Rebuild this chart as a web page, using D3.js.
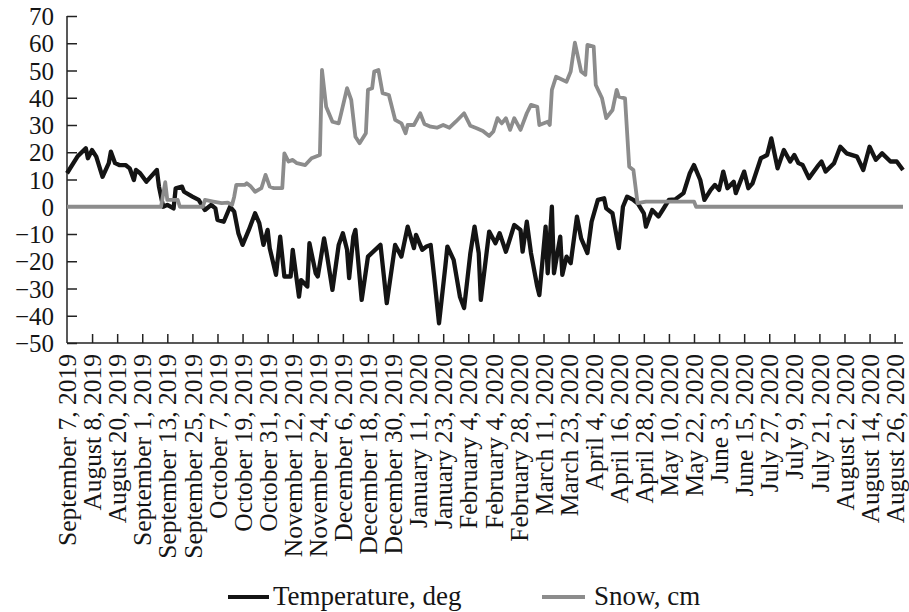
<!DOCTYPE html>
<html>
<head>
<meta charset="utf-8">
<script src="https://cdn.jsdelivr.net/npm/d3@7"></script>
<style>
  body { margin: 0; background: #fff; }
  svg text { font-family: "Liberation Serif", "DejaVu Serif", serif; fill: #151515; }
</style>
</head>
<body>
<div id="chart"></div>
<script>
// tick labels, one every 12 days (kept as printed in the source)
var xLabels = [
  "September 7, 2019", "August 8, 2019", "August 20, 2019", "September 1, 2019",
  "September 13, 2019", "September 25, 2019", "October 7, 2019", "October 19, 2019",
  "October 31, 2019", "November 12, 2019", "November 24, 2019", "December 6, 2019",
  "December 18, 2019", "December 30, 2019", "January 11, 2020", "January 23, 2020",
  "February 4, 2020", "February 4, 2020", "February 28, 2020", "March 11, 2020",
  "March 23, 2020", "April 4, 2020", "April 16, 2020", "April 28, 2020",
  "May 10, 2020", "May 22, 2020", "June 3, 2020", "June 15, 2020",
  "July 27, 2020", "July 9, 2020", "July 21, 2020", "August 2, 2020",
  "August 14, 2020", "August 26, 2020"
];
var yTicks = [-50, -40, -30, -20, -10, 0, 10, 20, 30, 40, 50, 60, 70];

// temperature, deg (day index from start, value)
var tempDay = [0, 5, 9, 10, 12, 14, 17, 20, 21, 23, 25, 28, 30, 32, 33, 35, 38, 43, 44, 46,
  48, 51, 52, 55, 56, 60, 63, 66, 69, 71, 72, 75, 78, 80, 82, 84, 87, 90, 92, 94,
  96, 97, 100, 102, 104, 107, 108, 111, 112, 115, 116, 119, 120, 123, 124, 127, 130, 132, 134, 135,
  137, 138, 141, 144, 150, 153, 157, 160, 163, 166, 167, 170, 172, 174, 176, 178, 181, 182, 185, 188,
  190, 193, 195, 197, 198, 202, 205, 207, 210, 214, 217, 218, 220, 222, 225, 226, 229, 230, 232, 233,
  236, 237, 239, 241, 244, 246, 249, 251, 254, 257, 258, 261, 264, 266, 268, 271, 273, 276, 277, 280,
  283, 285, 288, 291, 295, 298, 300, 303, 305, 308, 310, 312, 314, 316, 319, 320, 324, 326, 328, 332,
  335, 337, 340, 343, 346, 348, 350, 352, 355, 359, 361, 363, 367, 370, 373, 378, 381, 384, 387, 390,
  394, 397, 400];
var tempVal = [12.3, 18.4, 21.5, 17.8, 20.8, 18.4, 11, 16, 20.2, 16, 15.3, 15.3, 14.1, 9.8, 13.5, 12.3, 9.2, 13.5, 7.4, 0,
  0.7, -0.6, 6.8, 7.4, 5.5, 3.7, 2.5, -1.2, 0.7, -0.6, -4.8, -5.5, 0, -1.8, -9.7, -14, -8.5, -2.4, -6, -14,
  -8.5, -15.2, -25, -11, -25.6, -25.6, -15.8, -33, -26.9, -29.3, -13.4, -24.4, -25.6, -11.6, -15.8, -30.5, -14, -9.7, -15.8, -26.2,
  -11, -8.5, -34.2, -18.3, -14, -35.4, -14, -18.3, -7.3, -15.2, -10.3, -15.8, -14.6, -14, -28, -42.8, -22, -14.6, -19.5, -33,
  -37.2, -17, -7.3, -17, -34.2, -9.1, -13.4, -9.7, -16.5, -6.7, -8.5, -16.5, -5.5, -17, -29.3, -32.4, -7.3, -24.4, 0, -24.4,
  -11, -25, -18.3, -20.7, -3.6, -11.6, -17, -5.5, 2.5, 3.1, -0.6, -2.4, -15.2, 0, 3.7, 2.5, 1.3, -2.4, -7.3, -1.2,
  -3.6, -1.2, 2.5, 2.7, 5, 12.3, 15.3, 9.8, 2.5, 6.2, 8, 6.2, 12.9, 6.8, 9.2, 5, 12.9, 6.8, 8.6, 17.8,
  19, 25.1, 14.1, 20.8, 16.6, 19, 16, 15.3, 10.5, 14.7, 16.6, 12.9, 16, 22, 19.6, 18.4, 13.5, 22, 17.2, 19.6,
  16.6, 16.6, 13.5];

// snow, cm
var snowDay = [0, 45, 47, 48, 53, 54, 65, 66, 70, 74, 77, 79, 80, 81, 85, 86, 88, 90, 93, 95,
  97, 99, 103, 104, 106, 108, 110, 114, 117, 121, 122, 124, 127, 130, 131, 134, 136, 138, 140, 143,
  144, 146, 147, 149, 151, 154, 157, 160, 162, 163, 166, 169, 171, 174, 177, 180, 183, 186, 190, 193,
  196, 199, 202, 204, 206, 208, 210, 212, 214, 217, 220, 222, 225, 226, 230, 231, 232, 234, 239, 241,
  243, 246, 248, 249, 252, 253, 256, 258, 261, 263, 264, 267, 269, 271, 273, 277, 300, 301, 400];
var snowVal = [0, 0, 9, 2.5, 2.5, 0, 0, 2.5, 1.9, 1.3, 1.5, 0.7, 3.7, 8, 8, 8.6, 7.4, 5.5, 6.8, 11.7,
  7.4, 6.8, 6.8, 19.6, 16.6, 17.2, 16, 15.3, 17.8, 19, 50.2, 36.7, 31.2, 30.6, 33.7, 43.5, 39.2, 25.7, 23.3, 27,
  42.9, 43.5, 49.6, 50.2, 41.7, 41, 31.9, 30.6, 27, 30, 30, 34.3, 30.4, 29.4, 29, 30, 29, 31.2, 34.3, 29.7,
  28.8, 27.8, 26, 27.6, 32.5, 30.6, 32.5, 28.2, 32.5, 28.2, 34.3, 37.4, 36.7, 30, 31.2, 30, 42.9, 47.7, 45.9, 49.6,
  60.2, 49.6, 48.4, 59.4, 58.8, 44.7, 39.8, 32.5, 35.5, 42.9, 40.4, 39.8, 14.7, 13.5, 1.3, 1.9, 1.9, 0, 0];

var width = 909, height = 612;
var margin = { left: 67, right: 6, top: 16, bottom: 269 };

var svg = d3.select("#chart").append("svg")
    .attr("width", width)
    .attr("height", height);

var x = d3.scaleLinear()
    .domain([0, 400])
    .range([margin.left, width - margin.right]);
var y = d3.scaleLinear()
    .domain([-50, 70])
    .range([height - margin.bottom, margin.top]);

var toPoints = function(days, vals) {
    return days.map(function(d, i) { return [d, vals[i]]; });
};

var line = d3.line()
    .x(function(d) { return x(d[0]); })
    .y(function(d) { return y(d[1]); });

// y axis, ticks pointing into the plot
var yAxis = d3.axisRight(y)
    .tickValues(yTicks)
    .tickSize(10)
    .tickFormat(function(d) { return d < 0 ? "\u2212" + Math.abs(d) : d; });
var gy = svg.append("g")
    .attr("transform", "translate(" + margin.left + ",0)")
    .call(yAxis);
gy.select(".domain").attr("stroke", "#222").attr("stroke-width", 1.5).attr("d",
    "M0," + y(70) + "V" + y(-50));
gy.selectAll(".tick line").attr("stroke", "#222").attr("stroke-width", 1.5);
gy.selectAll(".tick text")
    .attr("x", -13)
    .attr("dy", "0.34em")
    .attr("text-anchor", "end")
    .style("font-size", "25px");

// x axis, ticks every 12 days pointing up
var xTickVals = xLabels.map(function(d, i) { return i * 12; });
var xAxis = d3.axisTop(x)
    .tickValues(xTickVals)
    .tickSize(9)
    .tickFormat(function(d, i) { return xLabels[i]; });
var gx = svg.append("g")
    .attr("transform", "translate(0," + y(-50) + ")")
    .call(xAxis);
gx.select(".domain").attr("stroke", "#222").attr("stroke-width", 1.5)
    .attr("d", "M" + x(0) + ",0H" + x(400));
gx.selectAll(".tick line").attr("stroke", "#222").attr("stroke-width", 1.5);
gx.selectAll(".tick").filter(function(d) { return d === 0; }).select("line").remove();
gx.selectAll(".tick text")
    .attr("transform", "rotate(-90)")
    .attr("x", -11)
    .attr("y", 0)
    .attr("dy", "0.34em")
    .attr("text-anchor", "end")
    .style("font-size", "25.5px");

// series
svg.append("path")
    .datum(toPoints(tempDay, tempVal))
    .attr("fill", "none")
    .attr("stroke", "#141414")
    .attr("stroke-width", 4.3)
    .attr("stroke-linejoin", "round")
    .attr("d", line);
svg.append("path")
    .datum(toPoints(snowDay, snowVal))
    .attr("fill", "none")
    .attr("stroke", "#8c8c8c")
    .attr("stroke-width", 3.8)
    .attr("stroke-linejoin", "round")
    .attr("d", line);

// legend
var legend = [
  { name: "Temperature, deg", color: "#141414", x1: 228, x2: 269, tx: 273 },
  { name: "Snow, cm", color: "#8c8c8c", x1: 542, x2: 585, tx: 594 }
];
var lg = svg.append("g");
lg.selectAll("line").data(legend).enter().append("line")
    .attr("x1", function(d) { return d.x1; })
    .attr("x2", function(d) { return d.x2; })
    .attr("y1", 597).attr("y2", 597)
    .attr("stroke", function(d) { return d.color; })
    .attr("stroke-width", 4);
lg.selectAll("text").data(legend).enter().append("text")
    .attr("x", function(d) { return d.tx; })
    .attr("y", 605)
    .style("font-size", "27px")
    .text(function(d) { return d.name; });
</script>
</body>
</html>
